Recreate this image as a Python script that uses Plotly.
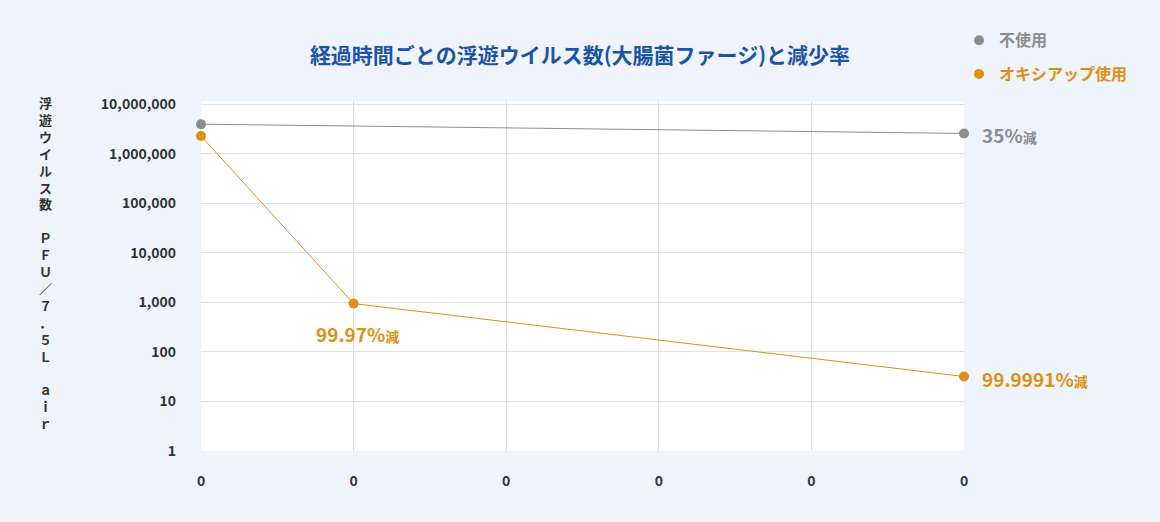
import math
import plotly.graph_objects as go

x_vals = [0, 1, 2, 3, 4, 5]
x_labels = ["0", "0", "0", "0", "0", "0"]
untreated_x = [0, 5]
untreated_y = [4000000, 2600000]
oxi_x = [0, 1, 5]
oxi_y = [2300000, 950, 32]
y_ticks = [1, 10, 100, 1000, 10000, 100000, 1000000, 10000000]
y_tick_labels = ["1", "10", "100", "1,000", "10,000", "100,000", "1,000,000", "10,000,000"]
series_names = ["不使用", "オキシアップ使用"]
reduction_labels = ["35%", "99.97%", "99.9991%"]

GRAY = "#8c8c8c"
ORANGE = "#dc9112"
FONT = "Noto Sans CJK JP"

fig = go.Figure()
fig.add_trace(go.Scatter(x=untreated_x, y=untreated_y, mode="lines+markers",
                         line=dict(color=GRAY, width=1), marker=dict(size=10, color=GRAY),
                         showlegend=False, cliponaxis=False, hoverinfo="skip"))
fig.add_trace(go.Scatter(x=oxi_x, y=oxi_y, mode="lines+markers",
                         line=dict(color=ORANGE, width=1), marker=dict(size=10, color=ORANGE),
                         showlegend=False, cliponaxis=False, hoverinfo="skip"))
# legend entries
fig.add_trace(go.Scatter(x=[None], y=[None], mode="markers", marker=dict(size=10, color=GRAY),
                         name=f"<span style='color:{GRAY}'><b>{series_names[0]}</b></span>",
                         legendgroup="a"))
fig.add_trace(go.Scatter(x=[None], y=[None], mode="markers", marker=dict(size=10, color=ORANGE),
                         name=f"<span style='color:{ORANGE}'><b>{series_names[1]}</b></span>",
                         legendgroup="b"))

def red_text(t):
    return f"<b>{t}</b><span style='font-size:14px'><b>減</b></span>"

fig.add_annotation(x=untreated_x[-1], y=math.log10(untreated_y[-1]), yref="y", xref="x",
                   text=red_text(reduction_labels[0]), showarrow=False,
                   xanchor="left", yanchor="middle", xshift=16, yshift=-1,
                   font=dict(size=19, color=GRAY, family=FONT))
fig.add_annotation(x=oxi_x[1], y=math.log10(oxi_y[1]), yref="y", xref="x",
                   text=red_text(reduction_labels[1]), showarrow=False,
                   xanchor="center", yanchor="middle", yshift=-30, xshift=4,
                   font=dict(size=19, color=ORANGE, family=FONT))
fig.add_annotation(x=oxi_x[2], y=math.log10(oxi_y[2]), yref="y", xref="x",
                   text=red_text(reduction_labels[2]), showarrow=False,
                   xanchor="left", yanchor="middle", xshift=16, yshift=-2,
                   font=dict(size=19, color=ORANGE, family=FONT))

ylab = "浮<br>遊<br>ウ<br>イ<br>ル<br>ス<br>数<br> <br>Ｐ<br>Ｆ<br>Ｕ<br>／<br>７<br>．<br>５<br>Ｌ<br> <br>ａ<br>ｉ<br>ｒ"
fig.add_annotation(xref="paper", yref="paper", x=-0.204, y=1.0, xanchor="center", yanchor="top",
                   text=f"<b>{ylab}</b>", showarrow=False, align="center",
                   font=dict(size=13, color="#333333", family=FONT), yshift=10)

fig.update_layout(
    width=1160, height=522,
    paper_bgcolor="#eff3fb", plot_bgcolor="#ffffff",
    margin=dict(l=201, r=196, t=101, b=71),
    font=dict(family=FONT, color="#333333"),
    title=dict(text="<b>経過時間ごとの浮遊ウイルス数(大腸菌ファージ)と減少率</b>",
               x=0.5, xanchor="center", y=0.894, yanchor="middle",
               font=dict(size=21, color="#1c55a5", family=FONT)),
    legend=dict(x=0.9935, xanchor="left", y=1.222, yanchor="top",
                font=dict(size=16, family=FONT), tracegroupgap=10,
                itemwidth=30, bgcolor="rgba(0,0,0,0)"),
    showlegend=True,
)
fig.update_xaxes(range=[0, 5], tickvals=x_vals, ticktext=x_labels, showgrid=True,
                 gridcolor="#dcdcdc", gridwidth=1, zeroline=False, showline=False,
                 ticks="", ticklabelstandoff=20,
                 tickfont=dict(size=14, color="#333333", family=FONT, weight="bold"))
fig.update_yaxes(type="log", range=[0, 7.07], tickvals=y_ticks, ticktext=y_tick_labels,
                 showgrid=True, gridcolor="#e3e3e3", gridwidth=1, zeroline=False, showline=False,
                 ticks="", ticklabelstandoff=24,
                 tickfont=dict(size=14, color="#333333", family=FONT, weight="bold"))

fig.write_html("out.html", config={"displayModeBar": False},
               post_script="document.body.style.margin='0';document.body.style.overflow='hidden';")
